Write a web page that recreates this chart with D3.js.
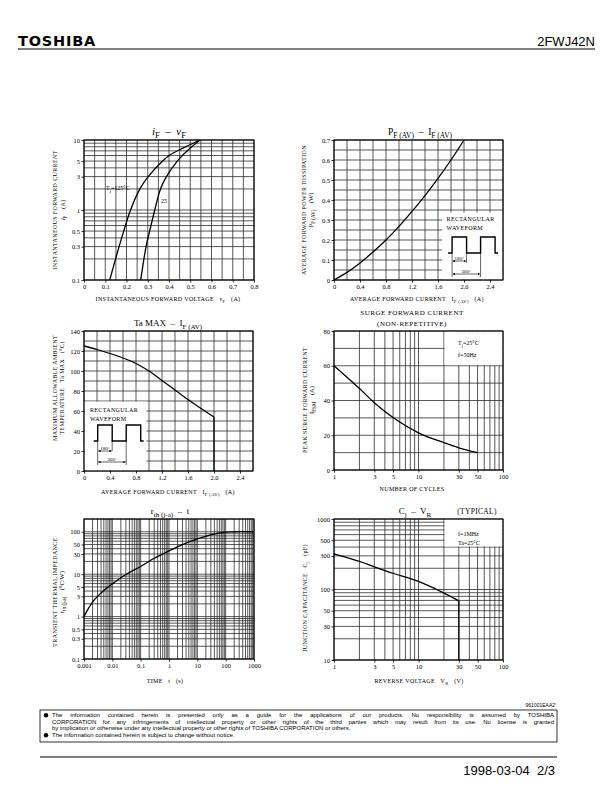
<!DOCTYPE html>
<html><head><meta charset="utf-8">
<script src="https://cdn.jsdelivr.net/npm/d3@7"></script>
<style>body{margin:0;background:#fff}text{white-space:pre}</style>
</head><body><svg id="page" width="612" height="792" xmlns="http://www.w3.org/2000/svg"></svg>
<script>
// ================= DATA =================
// Chart 1: iF - vF
const ivfXTicks = [0, 0.1, 0.2, 0.3, 0.4, 0.5, 0.6, 0.7, 0.8];
const ivfYTicks = [0.1, 0.3, 0.5, 1, 3, 5, 10];
const ivfTj125 = [[0.121,0.1],[0.165,0.3],[0.187,0.5],[0.219,1],[0.263,2],[0.302,3],[0.37,5],[0.404,6.1],[0.475,7.9],[0.546,10]];
const ivfTj25  = [[0.267,0.1],[0.292,0.3],[0.309,0.5],[0.333,1],[0.36,2],[0.388,3],[0.439,5],[0.49,7.2],[0.546,10]];
// Chart 2: PF(AV) - IF(AV)
const pfXTicks = [0, 0.4, 0.8, 1.2, 1.6, 2.0, 2.4];
const pfYTicks = [0, 0.1, 0.2, 0.3, 0.4, 0.5, 0.6, 0.7];
const pfCurve = [[0,0],[0.2,0.038],[0.4,0.085],[0.6,0.14],[0.8,0.2],[1.0,0.268],[1.2,0.343],[1.4,0.422],[1.6,0.508],[1.8,0.6],[2.0,0.7]];
// Chart 3: Ta MAX - IF(AV)
const taXTicks = [0, 0.4, 0.8, 1.2, 1.6, 2.0, 2.4];
const taYTicks = [0, 20, 40, 60, 80, 100, 120, 140];
const taCurve = [[0,125],[0.2,121.5],[0.4,117.5],[0.6,113],[0.8,107.5],[1.0,100],[1.2,90.5],[1.4,81],[1.6,71.5],[1.8,62.5],[2.0,54]];
const taDrop = [[2.0,54],[2.0,0]];
// Chart 4: surge forward current
const surgeXTicks = [1, 3, 5, 10, 30, 50, 100];
const surgeYTicks = [0, 20, 40, 60, 80];
const surgeCurve = [[1,60],[2,46.9],[3,38.7],[5,30.2],[10,21.4],[20,15.7],[30,12.8],[50,10]];
// Chart 5: rth(j-a) - t
const rthXTicks = [0.001, 0.01, 0.1, 1, 10, 100, 1000];
const rthYTicks = [0.1, 0.3, 0.5, 1, 3, 5, 10, 30, 50, 100];
const rthCurve = [[0.001,1],[0.002,2.2],[0.005,4.1],[0.01,5.9],[0.03,9.8],[0.1,15.2],[0.3,23.7],[1,35.5],[3,50],[10,68],[30,85],[100,98],[200,100],[1000,100]];
// Chart 6: Cj - VR
const cjXTicks = [1, 3, 5, 10, 30, 50, 100];
const cjYTicks = [10, 30, 50, 100, 300, 500, 1000];
const cjCurve = [[1,320],[2,250],[3,210],[5,170],[10,130],[20,89],[30,69]];
const cjDrop = [[30,69],[30,10]];

// ================= HELPERS =================
const svg = d3.select('#page');
const SERIF = "'Liberation Serif','DejaVu Serif',serif";
const SANS = "'Liberation Sans','DejaVu Sans',sans-serif";
const GRID = '#222';

function logGrid(lo, hi) {
  const out = [];
  for (let e = Math.floor(Math.log10(lo)); e <= Math.ceil(Math.log10(hi)); e++)
    for (let m = 1; m < 10; m++) {
      const v = +(m * Math.pow(10, e)).toPrecision(6);
      if (v >= lo * 0.999 && v <= hi * 1.001) out.push(v);
    }
  return out;
}
function linGrid(lo, hi, step) {
  return d3.range(0, Math.round((hi - lo) / step) + 1).map(i => +(lo + i * step).toFixed(6));
}
function rich(sel, parts, size) {
  let shifted = 0;
  parts.forEach(p => {
    if (typeof p === 'string') p = {t: p};
    const ts = sel.append('tspan').text(p.t);
    const want = p.sub ? size * 0.3 : 0;
    const dy = want - shifted;
    if (dy) ts.attr('dy', dy);
    shifted = want;
    if (p.sub) ts.attr('font-size', size * 0.78);
    if (p.it) ts.attr('font-style', 'italic');
  });
  return sel;
}
function label(x, y, parts, size, opts = {}) {
  const t = svg.append('text').attr('x', x).attr('y', y)
    .attr('font-family', SERIF).attr('font-size', size)
    .attr('text-anchor', opts.anchor || 'middle')
    .attr('letter-spacing', opts.ls || 0).attr('fill', '#000');
  if (opts.rot) t.attr('transform', `rotate(-90,${x},${y})`);
  if (opts.italic) t.attr('font-style', 'italic');
  return rich(t, parts, size);
}

function chart(c) {
  const g = svg.append('g');
  const x = (c.xLog ? d3.scaleLog() : d3.scaleLinear()).domain(c.xDom).range([c.L, c.R]);
  const y = (c.yLog ? d3.scaleLog() : d3.scaleLinear()).domain(c.yDom).range([c.B, c.T]);
  g.append('g').selectAll('line').data(c.xGrid).join('line')
    .attr('x1', d => x(d)).attr('x2', d => x(d)).attr('y1', c.T).attr('y2', c.B)
    .attr('stroke', GRID).attr('stroke-width', 0.75);
  g.append('g').selectAll('line').data(c.yGrid).join('line')
    .attr('x1', c.L).attr('x2', c.R).attr('y1', d => y(d)).attr('y2', d => y(d))
    .attr('stroke', GRID).attr('stroke-width', 0.75);
  (c.masks || []).forEach(m => {
    const x0 = x(m[0]), x1 = x(m[1]), y0 = y(m[2]), y1 = y(m[3]);
    g.append('rect').attr('x', Math.min(x0, x1) + 0.6).attr('y', Math.min(y0, y1) + 0.6)
      .attr('width', Math.abs(x1 - x0) - 1.2).attr('height', Math.abs(y1 - y0) - 1.2).attr('fill', '#fff');
  });
  g.append('rect').attr('x', c.L).attr('y', c.T).attr('width', c.R - c.L).attr('height', c.B - c.T)
    .attr('fill', 'none').attr('stroke', '#000').attr('stroke-width', 1.1);
  const ax = g.append('g').attr('transform', `translate(0,${c.B})`)
    .call(d3.axisBottom(x).tickValues(c.xTicks).tickSize(2.5).tickPadding(1.5).tickFormat(c.xFmt || (d => String(d))));
  const ay = g.append('g').attr('transform', `translate(${c.L},0)`)
    .call(d3.axisLeft(y).tickValues(c.yTicks).tickSize(2.5).tickPadding(1.5).tickFormat(c.yFmt || (d => String(d))));
  [ax, ay].forEach(a => {
    a.select('.domain').remove();
    a.selectAll('line').attr('stroke', '#000').attr('stroke-width', 0.8);
    a.selectAll('text').attr('font-family', SERIF).attr('font-size', 6.5).attr('fill', '#000');
  });
  return {g, x, y};
}
function curve(ch, data, kind) {
  const line = d3.line().x(d => ch.x(d[0])).y(d => ch.y(d[1]))
    .curve(kind === 'linear' ? d3.curveLinear : d3.curveCatmullRom.alpha(0.5));
  ch.g.append('path').datum(data).attr('d', line).attr('fill', 'none')
    .attr('stroke', '#000').attr('stroke-width', 1.3).attr('stroke-linejoin', 'round');
}
// arrowhead marker
const defs = svg.append('defs');
defs.append('marker').attr('id', 'ah').attr('viewBox', '0 0 6 6').attr('refX', 6).attr('refY', 3)
  .attr('markerWidth', 4).attr('markerHeight', 4).attr('orient', 'auto-start-reverse')
  .append('path').attr('d', 'M0,0 L6,3 L0,6 Z').attr('fill', '#000');

function waveform(xl, top, o) {
  const g = svg.append('g');
  const x0 = xl + o.dx, yl = top + o.dy, H = 16, W = 14.5, P = 28.5;
  label(xl + o.tx, top + o.t1, ['RECTANGULAR'], 6, {anchor: 'start', ls: 0.35});
  label(xl + o.tx, top + o.t1 + 9, ['WAVEFORM'], 6, {anchor: 'start', ls: 0.35});
  g.append('path').attr('d', `M${x0 - 4},${yl}H${x0}V${yl - H}H${x0 + W}V${yl}H${x0 + P}V${yl - H}H${x0 + P + W}V${yl}H${x0 + P + W + 3}`)
    .attr('fill', 'none').attr('stroke', '#000').attr('stroke-width', 1.4);
  [[x0, 24], [x0 + W, 10], [x0 + P, 24]].forEach(([xx, l]) =>
    g.append('line').attr('x1', xx).attr('x2', xx).attr('y1', yl).attr('y2', yl + l).attr('stroke', '#000').attr('stroke-width', 0.6));
  [[x0 + W, o.a1, '180°'], [x0 + P, 21, '360°']].forEach(([x1, ay, t]) => {
    g.append('line').attr('x1', x0 + 0.5).attr('x2', x1 - 0.5).attr('y1', yl + ay).attr('y2', yl + ay)
      .attr('stroke', '#000').attr('stroke-width', 0.6).attr('marker-start', 'url(#ah)').attr('marker-end', 'url(#ah)');
    label((x0 + x1) / 2, yl + ay - 1.3, [t], 5, {});
  });
}

// ================= HEADER =================
svg.append('text').attr('x', 18).attr('y', 46).attr('font-family', "'DejaVu Sans',sans-serif")
  .attr('font-weight', 'bold').attr('font-size', 14.5).attr('letter-spacing', 0.8).text('TOSHIBA');
svg.append('text').attr('x', 595).attr('y', 46).attr('text-anchor', 'end').attr('font-family', SANS)
  .attr('font-size', 13).text('2FWJ42N');
svg.append('line').attr('x1', 18).attr('x2', 595).attr('y1', 49).attr('y2', 49).attr('stroke', '#000').attr('stroke-width', 1);

// ================= CHART 1 =================
const c1 = chart({L: 84, R: 254, T: 140, B: 280, xDom: [0, 0.8], yDom: [0.1, 10], yLog: true,
  xGrid: linGrid(0, 0.8, 0.05), yGrid: logGrid(0.1, 10), xTicks: ivfXTicks, yTicks: ivfYTicks});
curve(c1, ivfTj125);
curve(c1, ivfTj25);
label(106, 190, ['T', {t: 'j', sub: 1}, '=125°C'], 6, {anchor: 'start'});
label(161, 203, ['25'], 6, {anchor: 'start'});
label(169, 135, [{t: 'i', it: 1}, {t: 'F', sub: 1}, '  –  ', {t: 'v', it: 1}, {t: 'F', sub: 1}], 11);
label(168, 301, ['INSTANTANEOUS FORWARD VOLTAGE   ', {t: 'v', it: 1}, {t: 'F', sub: 1}, '   (A)'], 6, {ls: 0.35});
label(57, 210, ['INSTANTANEOUS FORWARD CURRENT'], 6, {rot: 1, ls: 0.35});
label(65, 210, [{t: 'i', it: 1}, {t: 'F', sub: 1}, '    (A)'], 6.5, {rot: 1});

// ================= CHART 2 =================
const f1 = d => d === 0 ? '0' : d3.format('.1f')(d);
const c2 = chart({L: 334, R: 503, T: 140, B: 280, xDom: [0, 2.6], yDom: [0, 0.7],
  xGrid: linGrid(0, 2.6, 0.2), yGrid: linGrid(0, 0.7, 0.05), xTicks: pfXTicks, yTicks: pfYTicks,
  xFmt: f1, yFmt: f1, masks: [[1.655, 2.6, 0, 0.34]]});
curve(c2, pfCurve);
waveform(c2.x(1.655), c2.y(0.34), {dx: 10.5, dy: 41, tx: 5, t1: 9, a1: 8});
label(420, 135, ['P', {t: 'F (AV)', sub: 1}, '  –  I', {t: 'F (AV)', sub: 1}], 9.5);
label(417, 301, ['AVERAGE FORWARD CURRENT   I', {t: 'F (AV)', sub: 1}, '   (A)'], 6, {ls: 0.35});
label(306, 210, ['AVERAGE FORWARD POWER DISSIPATION'], 6, {rot: 1, ls: 0.35});
label(313, 210, ['P', {t: 'F (AV)', sub: 1}, '    (W)'], 6.5, {rot: 1});

// ================= CHART 3 =================
const c3 = chart({L: 84, R: 253, T: 331, B: 471, xDom: [0, 2.6], yDom: [0, 140],
  xGrid: linGrid(0, 2.6, 0.2), yGrid: linGrid(0, 140, 10), xTicks: taXTicks, yTicks: taYTicks,
  xFmt: f1, masks: [[0, 0.97, 0, 70]]});
curve(c3, taCurve);
curve(c3, taDrop, 'linear');
waveform(c3.x(0), c3.y(70), {dx: 13.7, dy: 40, tx: 6, t1: 10.5, a1: 10});
label(168, 326, ['Ta MAX  –  I', {t: 'F (AV)', sub: 1}], 9);
label(168, 494, ['AVERAGE FORWARD CURRENT   I', {t: 'F (AV)', sub: 1}, '   (A)'], 6, {ls: 0.35});
label(57, 388, ['MAXIMUM ALLOWABLE AMBIENT'], 6, {rot: 1, ls: 0.35});
label(64, 388, ['TEMPERATURE   Ta MAX   (°C)'], 6, {rot: 1, ls: 0.35});

// ================= CHART 4 =================
const c4 = chart({L: 334, R: 503, T: 331, B: 470, xDom: [1, 100], xLog: true, yDom: [0, 80],
  xGrid: logGrid(1, 100), yGrid: linGrid(0, 80, 10), xTicks: surgeXTicks, yTicks: surgeYTicks,
  masks: [[20, 100, 60, 80]]});
curve(c4, surgeCurve);
label(458, 345, ['T', {t: 'j', sub: 1}, '=25°C'], 6, {anchor: 'start'});
label(458, 357, ['f=50Hz'], 6, {anchor: 'start'});
label(412, 315, ['SURGE FORWARD CURRENT'], 7, {ls: 0.5});
label(412, 325.5, ['(NON-REPETITIVE)'], 7, {ls: 0.5});
label(412, 491, ['NUMBER OF CYCLES'], 6, {ls: 0.35});
label(307, 400, ['PEAK SURGE FORWARD CURRENT'], 6, {rot: 1, ls: 0.35});
label(314, 400, ['I', {t: 'FSM', sub: 1}, '    (A)'], 6.5, {rot: 1});

// ================= CHART 5 =================
const c5 = chart({L: 84, R: 254, T: 519, B: 659, xDom: [0.001, 1000], xLog: true, yDom: [0.1, 200], yLog: true,
  xGrid: logGrid(0.001, 1000), yGrid: logGrid(0.1, 200), xTicks: rthXTicks, yTicks: rthYTicks});
curve(c5, rthCurve);
label(170, 514, ['r', {t: 'th (j-a)', sub: 1}, '  –  t'], 9);
label(165, 683, ['TIME   t   (s)'], 6, {ls: 0.35});
label(57, 592, ['TRANSIENT THERMAL IMPEDANCE'], 6, {rot: 1, ls: 0.35});
label(64, 592, ['r', {t: 'th (j-a)', sub: 1}, '    (°C/W)'], 6.5, {rot: 1});

// ================= CHART 6 =================
const c6 = chart({L: 334, R: 503, T: 519, B: 660, xDom: [1, 100], xLog: true, yDom: [10, 1000], yLog: true,
  xGrid: logGrid(1, 100), yGrid: logGrid(10, 1000), xTicks: cjXTicks, yTicks: cjYTicks,
  masks: [[20, 100, 400, 1000]]});
curve(c6, cjCurve);
curve(c6, cjDrop, 'linear');
label(458, 536, ['f=1MHz'], 6, {anchor: 'start'});
label(458, 545, ['Ta=25°C'], 6, {anchor: 'start'});
label(415, 514, ['C', {t: 'j', sub: 1}, '  –  V', {t: 'R', sub: 1}], 9);
label(477, 514, ['(TYPICAL)'], 7.5, {ls: 0.3});
label(419, 683, ['REVERSE VOLTAGE   V', {t: 'R', sub: 1}, '   (V)'], 6, {ls: 0.35});
label(307, 598, ['JUNCTION CAPACITANCE   C', {t: 'j', sub: 1}, '   (pF)'], 6, {rot: 1, ls: 0.35});

// ================= FOOTER =================
svg.append('text').attr('x', 556).attr('y', 707).attr('text-anchor', 'end').attr('font-family', SANS)
  .attr('font-size', 5).text("961001EAA2'");
svg.append('rect').attr('x', 40).attr('y', 710).attr('width', 517).attr('height', 32)
  .attr('fill', 'none').attr('stroke', '#000').attr('stroke-width', 0.8);
const foot = [
  ['The information contained herein is presented only as a guide for the applications of our products. No responsibility is assumed by TOSHIBA', true, true],
  ['CORPORATION for any infringements of intellectual property or other rights of the third parties which may result from its use. No license is granted', false, true],
  ['by implication or otherwise under any intellectual property or other rights of TOSHIBA CORPORATION or others.', false, false],
  ['The information contained herein is subject to change without notice.', true, false]
];
foot.forEach((f, i) => {
  const yy = 717 + i * 6.7;
  if (f[1]) svg.append('circle').attr('cx', 46).attr('cy', yy - 1.8).attr('r', 2.2).attr('fill', '#000');
  const t = svg.append('text').attr('x', 52).attr('y', yy).attr('font-family', SANS).attr('font-size', 6)
    .style('white-space', 'normal').text(f[0]);
  if (f[2]) {
    const nat = t.node().getComputedTextLength();
    const spaces = (f[0].match(/ /g) || []).length;
    t.attr('word-spacing', Math.max(0, (502 - nat) / spaces));
  }
});
svg.append('line').attr('x1', 40).attr('x2', 557).attr('y1', 757).attr('y2', 757).attr('stroke', '#000').attr('stroke-width', 1);
svg.append('text').attr('x', 555).attr('y', 775).attr('text-anchor', 'end').attr('font-family', SANS)
  .attr('font-size', 13).text('1998-03-04  2/3');
</script></body></html>
